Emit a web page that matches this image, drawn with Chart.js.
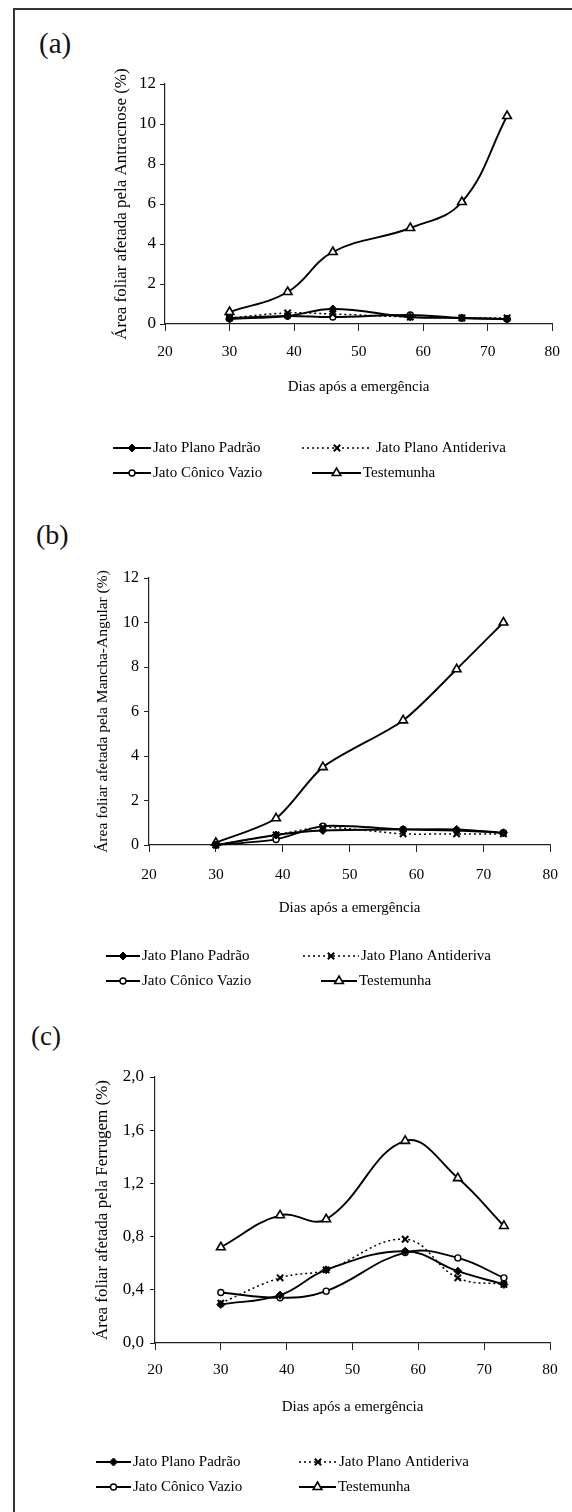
<!DOCTYPE html>
<html>
<head>
<meta charset="utf-8">
<script src="https://cdn.jsdelivr.net/npm/chart.js@4.4.0/dist/chart.umd.min.js"></script>
<style>
  body { margin: 0; background: #fff; }
  #page { position: relative; width: 572px; height: 1512px; overflow: hidden; }
  #frame { position: absolute; left: 13px; top: 8px; right: -4px; bottom: -4px;
           border-left: 2px solid #333; border-top: 2px solid #333; }
  canvas { position: absolute; left: 0; }
  .tag { position: absolute; font-family: "Liberation Serif", serif; line-height: 1; color: #111; }
</style>
</head>
<body>
<div id="page">
  <div id="frame"></div>
  <div class="tag" style="left:39px;top:29px;font-size:29px">(a)</div>
  <div class="tag" style="left:36px;top:521px;font-size:28px">(b)</div>
  <div class="tag" style="left:31px;top:1023px;font-size:27px">(c)</div>
  <canvas id="chartA" width="572" height="500" style="top:0"></canvas>
  <canvas id="chartB" width="572" height="500" style="top:500px"></canvas>
  <canvas id="chartC" width="572" height="512" style="top:1000px"></canvas>
</div>
<script>
// values
const dias = [30, 39, 46, 58, 66, 73];
const nomes = ['Jato Plano Padrão', 'Jato Plano Antideriva', 'Jato Cônico Vazio', 'Testemunha'];

const antracnosePadrao     = [0.25, 0.4, 0.75, 0.35, 0.3, 0.25];
const antracnoseAntideriva = [0.3, 0.55, 0.5, 0.35, 0.3, 0.3];
const antracnoseConico     = [0.3, 0.4, 0.35, 0.45, 0.3, 0.25];
const antracnoseTestemunha = [0.6, 1.6, 3.6, 4.8, 6.1, 10.4];

const manchaPadrao     = [0, 0.45, 0.65, 0.7, 0.7, 0.55];
const manchaAntideriva = [0, 0.45, 0.8, 0.5, 0.5, 0.5];
const manchaConico     = [0, 0.25, 0.85, 0.7, 0.65, 0.55];
const manchaTestemunha = [0.1, 1.2, 3.5, 5.6, 7.9, 10.0];

const ferrugemPadrao     = [0.29, 0.36, 0.55, 0.69, 0.54, 0.44];
const ferrugemAntideriva = [0.30, 0.49, 0.55, 0.78, 0.49, 0.44];
const ferrugemConico     = [0.38, 0.34, 0.39, 0.68, 0.64, 0.49];
const ferrugemTestemunha = [0.72, 0.96, 0.93, 1.52, 1.24, 0.88];

const serif = '"Liberation Serif", "Times New Roman", serif';

// marker / line look of each treatment
const estilos = [
  { pointStyle: 'rectRot', pointRadius: 4, pointBackgroundColor: '#000', pointBorderWidth: 1 },
  { pointStyle: 'crossRot', pointRadius: 4.5, pointBackgroundColor: '#000', pointBorderWidth: 2, borderDash: [2, 3], borderWidth: 1.5 },
  { pointStyle: 'circle', pointRadius: 3, pointBackgroundColor: '#fff', pointBorderWidth: 1.4 },
  { pointStyle: 'triangle', pointRadius: 5, pointBackgroundColor: '#fff', pointBorderWidth: 1.6 }
];

function datasets(series, tension) {
  return series.map((vals, i) => Object.assign({
    label: nomes[i],
    data: dias.map((d, k) => ({ x: d, y: vals[k] })),
    borderColor: '#000',
    pointBorderColor: '#000',
    borderWidth: 1.9,
    tension: tension,
    clip: false
  }, estilos[i]));
}

// legend: line sample with marker in the middle, then the label
const sampleLegend = {
  id: 'sampleLegend',
  afterDraw(chart, args, opts) {
    const ctx = chart.ctx;
    ctx.save();
    opts.items.forEach(it => {
      const ds = chart.data.datasets[it.i];
      ctx.strokeStyle = '#000';
      ctx.lineWidth = ds.borderWidth;
      ctx.setLineDash(ds.borderDash || []);
      ctx.beginPath(); ctx.moveTo(it.x0, it.y); ctx.lineTo(it.x1, it.y); ctx.stroke();
      ctx.setLineDash([]);
      ctx.fillStyle = ds.pointBackgroundColor;
      ctx.lineWidth = ds.pointBorderWidth;
      Chart.helpers.drawPoint(ctx, { pointStyle: ds.pointStyle, radius: ds.pointRadius, borderWidth: ds.pointBorderWidth, rotation: 0 }, (it.x0 + it.x1) / 2, it.y);
      ctx.fillStyle = '#000';
      ctx.font = opts.font;
      ctx.textAlign = 'left';
      ctx.textBaseline = 'middle';
      ctx.fillText(ds.label, it.tx, it.y);
    });
    ctx.restore();
  }
};

function grafico(id, cfg) {
  const h = document.getElementById(id).height;
  new Chart(document.getElementById(id), {
    type: 'line',
    data: { datasets: datasets(cfg.series, cfg.tension) },
    plugins: [sampleLegend],
    options: {
      responsive: false,
      animation: false,
      events: [],
      layout: { padding: {
        left: cfg.left - cfg.yw,
        right: 572 - cfg.right,
        top: cfg.top,
        bottom: h - cfg.bottom - cfg.xh
      } },
      scales: {
        x: {
          type: 'linear', min: 20, max: 80,
          ticks: { stepSize: 10, color: '#000', padding: cfg.xpad, font: { family: serif, size: 15.5 } },
          grid: { drawOnChartArea: false, tickLength: 7, color: '#222' },
          border: { color: '#222', width: 1.2 },
          title: { display: true, text: 'Dias após a emergência', color: '#000', padding: 0, font: { family: serif, size: 15 } },
          afterFit: s => { s.height = cfg.xh; }
        },
        y: {
          min: 0, max: cfg.ymax,
          ticks: { stepSize: cfg.ystep, color: '#000', padding: cfg.ypad, font: { family: serif, size: cfg.ytickSize },
                   callback: cfg.yfmt || (v => v) },
          grid: { drawOnChartArea: false, tickLength: 5, color: '#222' },
          border: { color: '#222', width: 1.2 },
          title: { display: true, text: cfg.ytitle, color: '#000', padding: 0, font: { family: serif, size: cfg.ytitleSize } },
          afterFit: s => { s.width = cfg.yw; }
        }
      },
      plugins: {
        legend: { display: false },
        tooltip: { enabled: false },
        sampleLegend: { font: '15px ' + serif, items: cfg.legend }
      }
    }
  });
}

grafico('chartA', {
  series: [antracnosePadrao, antracnoseAntideriva, antracnoseConico, antracnoseTestemunha],
  tension: 0.4, ymax: 12, ystep: 2,
  left: 165, right: 560, top: 84, bottom: 324, yw: 54, xh: 72, xpad: 12, ypad: 4,
  ytickSize: 17, ytitleSize: 17,
  ytitle: 'Área foliar afetada pela Antracnose (%)',
  legend: [
    { i: 0, x0: 113, x1: 151, tx: 153, y: 448 },
    { i: 1, x0: 302, x1: 372, tx: 376, y: 448 },
    { i: 2, x0: 113, x1: 151, tx: 153, y: 473 },
    { i: 3, x0: 312, x1: 361, tx: 363, y: 473 }
  ]
});

grafico('chartB', {
  series: [manchaPadrao, manchaAntideriva, manchaConico, manchaTestemunha],
  tension: 0.25, ymax: 12, ystep: 2,
  left: 149, right: 558, top: 78, bottom: 345, yw: 55, xh: 72, xpad: 14, ypad: 5,
  ytickSize: 16, ytitleSize: 15.5,
  ytitle: 'Área foliar afetada pela Mancha-Angular (%)',
  legend: [
    { i: 0, x0: 106, x1: 140, tx: 142, y: 456 },
    { i: 1, x0: 303, x1: 359, tx: 361, y: 456 },
    { i: 2, x0: 106, x1: 140, tx: 142, y: 481 },
    { i: 3, x0: 321, x1: 357, tx: 359, y: 481 }
  ]
});

grafico('chartC', {
  series: [ferrugemPadrao, ferrugemAntideriva, ferrugemConico, ferrugemTestemunha],
  tension: 0.4, ymax: 2, ystep: 0.4,
  yfmt: v => v.toFixed(1).replace('.', ','),
  left: 155, right: 550, top: 77, bottom: 343, yw: 63, xh: 73, xpad: 11, ypad: 6,
  ytickSize: 17, ytitleSize: 17,
  ytitle: 'Área foliar afetada pela Ferrugem (%)',
  legend: [
    { i: 0, x0: 96, x1: 131, tx: 133, y: 462 },
    { i: 1, x0: 299, x1: 337, tx: 339, y: 462 },
    { i: 2, x0: 96, x1: 131, tx: 133, y: 487 },
    { i: 3, x0: 299, x1: 336, tx: 338, y: 487 }
  ]
});
</script>
</body>
</html>
